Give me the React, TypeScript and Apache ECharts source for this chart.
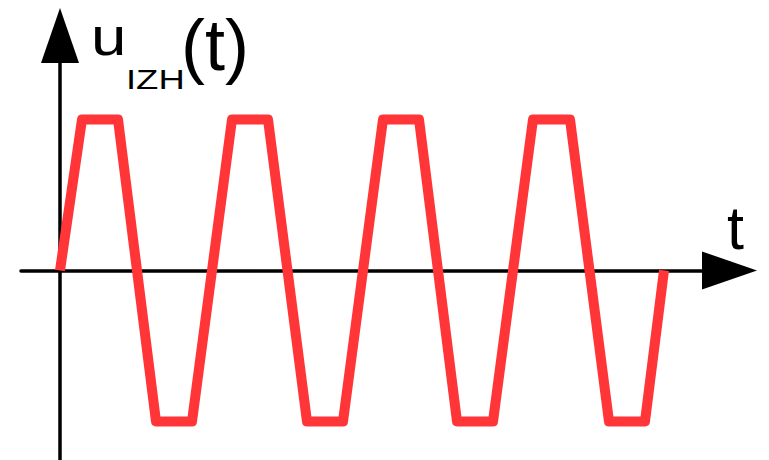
import React, { useEffect, useRef } from "react";
import * as echarts from "echarts";

// time positions of the waveform corners and their levels
const tValues = [0, 22, 58, 96, 132, 172, 208, 247, 283, 323, 359, 397, 433, 473, 510, 549, 585, 604];
const uValues = [0, 1, 1, -1, -1, 1, 1, -1, -1, 1, 1, -1, -1, 1, 1, -1, -1, 0];
const yAxisTitle = { main: "u", sub: "IZH", tail: "(t)" };
const xAxisTitle = "t";

const RED = "#ff3538";
const FONT = "'Liberation Sans', Arial, sans-serif";

export default function App() {
  const ref = useRef<HTMLDivElement>(null);
  useEffect(() => {
    document.body.style.margin = "0";
    const chart = echarts.init(ref.current!, null, { renderer: "svg" });
    const data = tValues.map((t, i) => [t, uValues[i]]);
    chart.setOption({
      animation: false,
      backgroundColor: "#ffffff",
      grid: { left: 21, top: 35.5, width: 708.5, height: 424.5, containLabel: false },
      xAxis: {
        type: "value",
        min: -39,
        max: 669.5,
        axisLine: {
          show: true,
          onZero: true,
          symbol: ["none", "triangle"],
          symbolSize: [38, 55],
          lineStyle: { color: "#000", width: 3.5 },
        },
        axisTick: { show: false },
        axisLabel: { show: false },
        splitLine: { show: false },
      },
      yAxis: {
        type: "value",
        min: -1.255,
        max: 1.556,
        axisLine: {
          show: true,
          onZero: true,
          symbol: ["none", "triangle"],
          symbolSize: [38, 55],
          lineStyle: { color: "#000", width: 3.5 },
        },
        axisTick: { show: false },
        axisLabel: { show: false },
        splitLine: { show: false },
      },
      series: [
        {
          type: "line",
          data,
          showSymbol: false,
          symbol: "none",
          lineStyle: { color: RED, width: 10, cap: "butt", join: "round" },
          z: 5,
        },
      ],
      graphic: [
        {
          type: "text",
          x: 91,
          y: 36,
          scaleX: 1.2,
          style: { text: yAxisTitle.main, fontSize: 53, fontFamily: FONT, fill: "#000", align: "left", verticalAlign: "middle" },
        },
        {
          type: "text",
          x: 126,
          y: 80,
          scaleX: 1.35,
          style: { text: yAxisTitle.sub, fontSize: 27, fontFamily: FONT, fill: "#000", align: "left", verticalAlign: "middle" },
        },
        {
          type: "text",
          x: 181,
          y: 45,
          style: { text: yAxisTitle.tail, fontSize: 72, fontFamily: FONT, fill: "#000", align: "left", verticalAlign: "middle" },
        },
        {
          type: "text",
          x: 727,
          y: 228,
          style: { text: xAxisTitle, fontSize: 61, fontFamily: FONT, fill: "#000", align: "left", verticalAlign: "middle" },
        },
      ],
    });
    return () => chart.dispose();
  }, []);
  return <div ref={ref} style={{ position: "fixed", left: 0, top: 0, width: 769, height: 460 }} />;
}
